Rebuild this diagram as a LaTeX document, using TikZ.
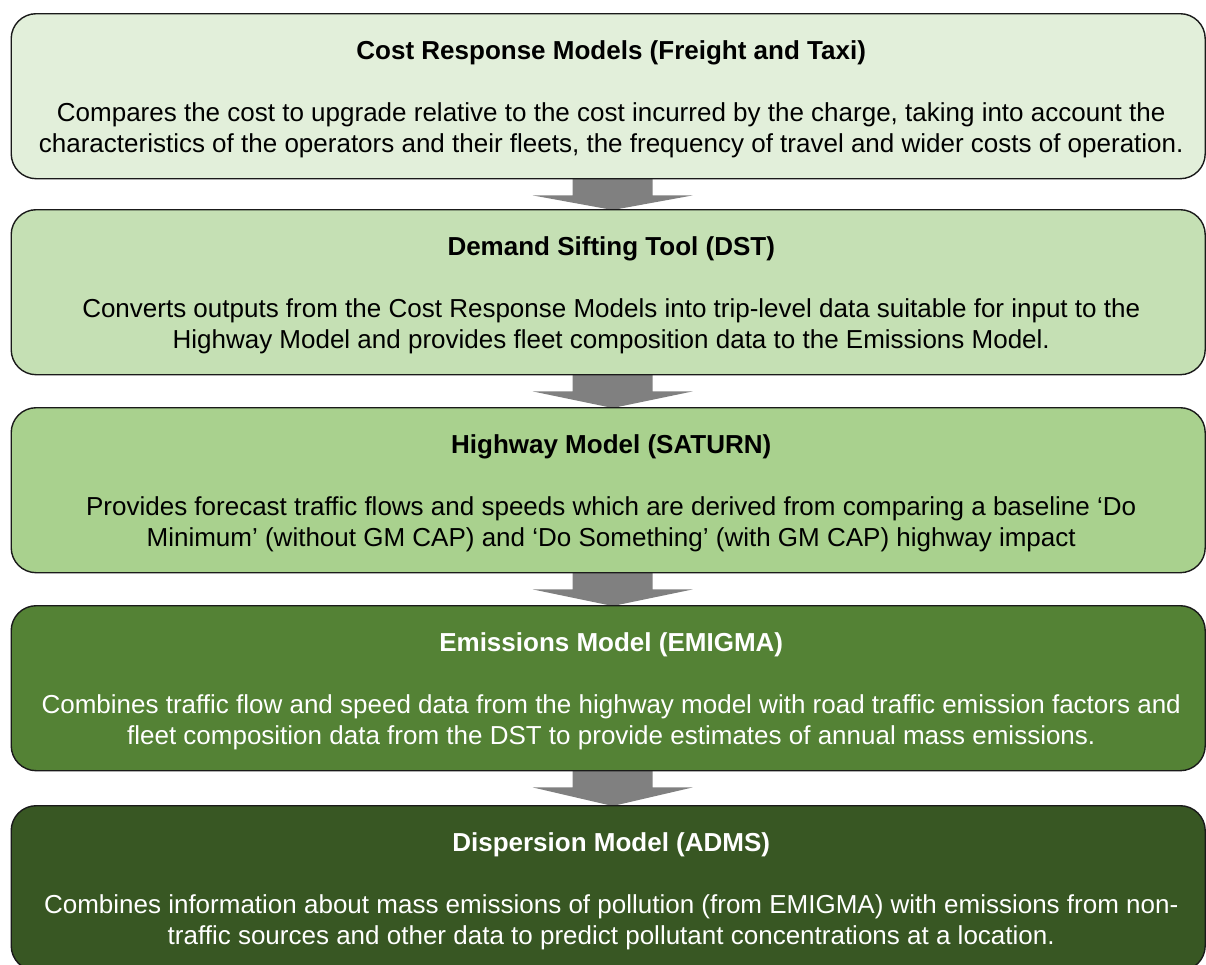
\documentclass[tikz,border=0pt]{standalone}
\usepackage{fontspec}
\setmainfont{Liberation Sans}
\usetikzlibrary{calc,backgrounds}
\definecolor{cA}{HTML}{E2EFDA}
\definecolor{cB}{HTML}{C5E0B4}
\definecolor{cC}{HTML}{A9D18E}
\definecolor{cD}{HTML}{548235}
\definecolor{cE}{HTML}{385723}
\definecolor{arrowgray}{HTML}{808080}
\definecolor{edgecol}{HTML}{1A1A1A}
\newcommand{\flowarrow}[2]{%
  \fill[flow] ($(#1.south)+(-35.5,-1)$) -- ($(#1.south)+(44.5,-1)$) -- ($(#1.south)+(44.5,16)$)
    -- ($(#1.south)+(84.5,16)$) -- ($(#2.north)+(4.5,1)$) -- ($(#1.south)+(-75.5,16)$)
    -- ($(#1.south)+(-35.5,16)$) -- cycle;}
\begin{document}
\begin{tikzpicture}[x=1pt,y=-1pt,
  stage/.style={draw=edgecol, line width=1.4pt, rounded corners=25pt, minimum width=1194pt,
    minimum height=165pt, inner sep=0pt, anchor=north west},
  ttl/.style={font=\fontsize{26}{31}\selectfont\bfseries, anchor=center, inner sep=0pt},
  bodytext/.style={font=\fontsize{26}{31.5}\selectfont, align=center, anchor=center, inner sep=0pt},
  flow/.style={fill=arrowgray}]
\useasboundingbox (0,0) rectangle (1206,964);
\node[stage, fill=cA] (b1) at (10.5,13) {};
\node[stage, fill=cB] (b2) at (10.5,209) {};
\node[stage, fill=cC] (b3) at (10.5,407) {};
\node[stage, fill=cD] (b4) at (10.5,605) {};
\node[stage, fill=cE] (b5) at (10.5,805) {};
\begin{pgfonlayer}{background}
\flowarrow{b1}{b2}
\flowarrow{b2}{b3}
\flowarrow{b3}{b4}
\flowarrow{b4}{b5}
\end{pgfonlayer}
\node[ttl] (t1) at ($(b1.north)+(3,39.5)$) {Cost Response Models (Freight and Taxi)};
\node[bodytext] (d1) at ($(b1.north)+(3,117.5)$) {Compares the cost to upgrade relative to the cost incurred by the charge, taking into account the\\characteristics of the operators and their fleets, the frequency of travel and wider costs of operation.};
\node[ttl] (t2) at ($(b2.north)+(3,39.5)$) {Demand Sifting Tool (DST)};
\node[bodytext] (d2) at ($(b2.north)+(3,117.5)$) {Converts outputs from the Cost Response Models into trip-level data suitable for input to the\\Highway Model and provides fleet composition data to the Emissions Model.};
\node[ttl] (t3) at ($(b3.north)+(3,39.5)$) {Highway Model (SATURN)};
\node[bodytext] (d3) at ($(b3.north)+(3,117.5)$) {Provides forecast traffic flows and speeds which are derived from comparing a baseline ‘Do\\Minimum’ (without GM CAP) and ‘Do Something’ (with GM CAP) highway impact};
\node[ttl, text=white] (t4) at ($(b4.north)+(3,39.5)$) {Emissions Model (EMIGMA)};
\node[bodytext, text=white] (d4) at ($(b4.north)+(3,117.5)$) {Combines traffic flow and speed data from the highway model with road traffic emission factors and\\fleet composition data from the DST to provide estimates of annual mass emissions.};
\node[ttl, text=white] (t5) at ($(b5.north)+(3,39.5)$) {Dispersion Model (ADMS)};
\node[bodytext, text=white] (d5) at ($(b5.north)+(3,117.5)$) {Combines information about mass emissions of pollution (from EMIGMA) with emissions from non-\\traffic sources and other data to predict pollutant concentrations at a location.};
\end{tikzpicture}
\end{document}
